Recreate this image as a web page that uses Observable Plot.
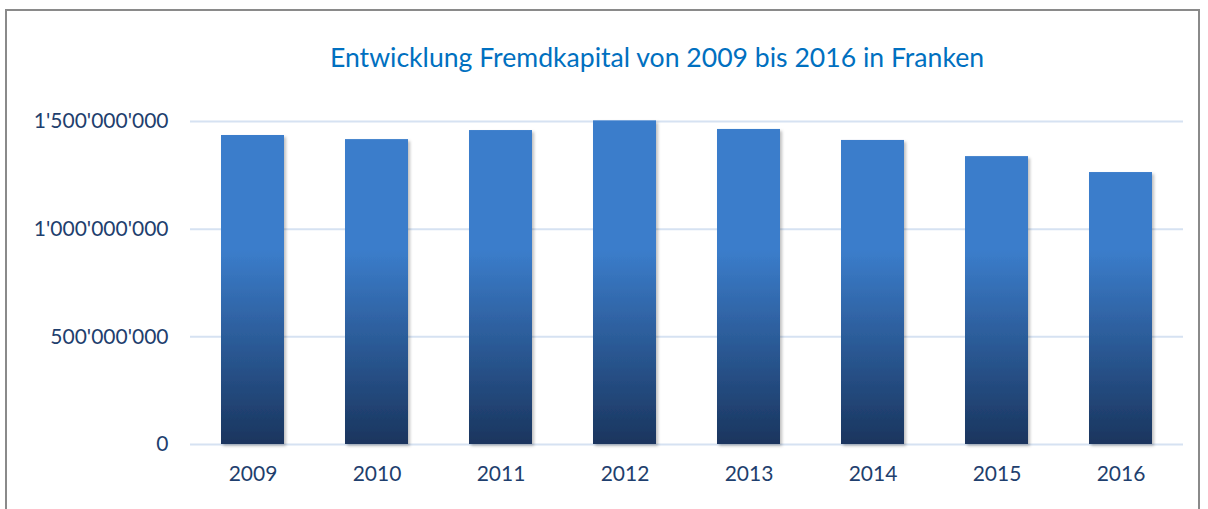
<!DOCTYPE html>
<html><head><meta charset="utf-8">
<script src="https://cdn.jsdelivr.net/npm/d3@7"></script>
<script src="https://cdn.jsdelivr.net/npm/@observablehq/plot@0.6"></script>
<style>
body{margin:0;background:#fff;width:1208px;height:509px;overflow:hidden;position:relative;font-family:Lato,sans-serif}
#frame{position:absolute;left:5px;top:9px;width:1195px;height:520px;border:2px solid #8a8a8a;box-sizing:border-box}
#title{position:absolute;left:0;top:40px;width:1314px;text-align:center;font-size:26.6px;line-height:34px;color:#0070c0;font-family:Lato,sans-serif}
#chart{position:absolute;left:0;top:90px}
</style></head>
<body>
<div id="frame"></div>
<div id="title">Entwicklung Fremdkapital von 2009 bis 2016 in Franken</div>
<div id="chart"></div>
<script>
const years = ["2009","2010","2011","2012","2013","2014","2015","2016"];
const values = [1.435e9, 1.416e9, 1.458e9, 1.503e9, 1.463e9, 1.412e9, 1.337e9, 1.263e9];
const yTicks = [0, 5e8, 1e9, 1.5e9];
const data = years.map((y, i) => ({year: y, value: values[i]}));
const fmt = v => d3.format(",")(v).replace(/,/g, "'");

const defs = (index, scales) => {
  const g = d3.create("svg:defs");
  const grad = g.append("linearGradient").attr("id", "barGrad")
    .attr("gradientUnits", "userSpaceOnUse")
    .attr("x1", 0).attr("x2", 0)
    .attr("y1", scales.y(0.9e9)).attr("y2", scales.y(0));
  grad.append("stop").attr("offset", 0).attr("stop-color", "#3b7dcb");
  grad.append("stop").attr("offset", 1).attr("stop-color", "#1a355e");
  const f = g.append("filter").attr("id", "shadow").attr("x", "-20%").attr("y", "-5%").attr("width", "150%").attr("height", "115%");
  f.append("feDropShadow").attr("dx", 2).attr("dy", 2).attr("stdDeviation", 1.5).attr("flood-color", "#000").attr("flood-opacity", 0.25);
  return g.node();
};

const plot = Plot.plot({
  width: 1208, height: 419,
  marginTop: 31, marginBottom: 65, marginLeft: 190, marginRight: 25,
  style: {fontFamily: "Lato, sans-serif", fontSize: "21px", color: "#1f3f6e", background: "transparent", overflow: "visible"},
  x: {domain: years, paddingInner: 0.49, paddingOuter: 0.245, label: null, tickSize: 0, tickPadding: 22},
  y: {domain: [0, 1.5e9], ticks: yTicks, tickFormat: fmt, label: null, tickSize: 0, tickPadding: 22},
  marks: [
    defs,
    Plot.ruleY(yTicks, {stroke: "#d6e2f2", strokeWidth: 2}),
    Plot.barY(data, {x: "year", y: "value", fill: "url(#barGrad)"}),
  ]
});
plot.querySelectorAll("g[aria-label='bar']").forEach(g => g.setAttribute("filter", "url(#shadow)"));
document.getElementById("chart").append(plot);
</script>
</body></html>
